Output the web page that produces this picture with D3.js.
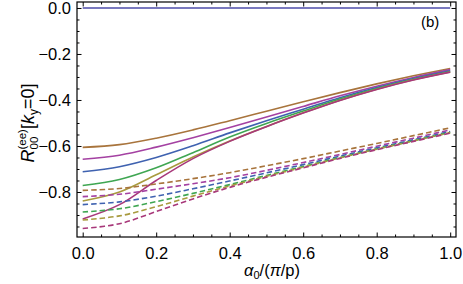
<!DOCTYPE html>
<html><head><meta charset="utf-8">
<script src="https://cdn.jsdelivr.net/npm/d3@7"></script>
<style>body{margin:0;background:#fff}svg{display:block}text{font-family:"Liberation Sans",Arial,sans-serif}</style>
</head><body><svg id="c" width="463" height="284"></svg>
<script>
const tValues = [0,0.1,0.2,0.3,0.4,0.5,0.6,0.7,0.8,0.9,1.0];
const zeroLine = [0,0,0,0,0,0,0,0,0,0,0];
const solidBrown   = [-0.606,-0.594,-0.566,-0.530,-0.490,-0.449,-0.408,-0.368,-0.330,-0.295,-0.263];
const solidPurple  = [-0.658,-0.640,-0.605,-0.564,-0.520,-0.474,-0.428,-0.382,-0.340,-0.302,-0.268];
const solidBlue    = [-0.712,-0.690,-0.650,-0.599,-0.543,-0.490,-0.440,-0.390,-0.346,-0.307,-0.273];
const solidGreen   = [-0.772,-0.746,-0.695,-0.629,-0.561,-0.502,-0.448,-0.396,-0.350,-0.310,-0.276];
const solidOlive   = [-0.839,-0.800,-0.725,-0.648,-0.578,-0.515,-0.456,-0.401,-0.353,-0.312,-0.278];
const solidMagenta = [-0.917,-0.855,-0.750,-0.655,-0.580,-0.516,-0.457,-0.402,-0.354,-0.313,-0.279];
const dashBrown   = [-0.793,-0.785,-0.765,-0.742,-0.716,-0.686,-0.655,-0.622,-0.589,-0.555,-0.521];
const dashPurple  = [-0.820,-0.810,-0.788,-0.764,-0.738,-0.706,-0.672,-0.637,-0.601,-0.566,-0.530];
const dashBlue    = [-0.855,-0.843,-0.818,-0.786,-0.752,-0.717,-0.681,-0.644,-0.608,-0.573,-0.537];
const dashGreen   = [-0.887,-0.873,-0.842,-0.806,-0.768,-0.728,-0.689,-0.650,-0.613,-0.577,-0.541];
const dashOlive   = [-0.922,-0.904,-0.864,-0.818,-0.774,-0.732,-0.692,-0.652,-0.614,-0.578,-0.542];
const dashMagenta = [-0.959,-0.938,-0.885,-0.830,-0.780,-0.736,-0.695,-0.654,-0.616,-0.580,-0.544];
const xTicks = [0,0.2,0.4,0.6,0.8,1.0];
const yTicks = [-0.8,-0.6,-0.4,-0.2,0.0];

const colors = {zero:"#4d4ba8",brown:"#a8743c",purple:"#a441a2",blue:"#3f62b0",green:"#3fa652",olive:"#a89a3e",magenta:"#a8387a"};
const series = [
  {v:zeroLine,c:colors.zero,d:false},
  {v:solidBrown,c:colors.brown,d:false},{v:solidPurple,c:colors.purple,d:false},{v:solidBlue,c:colors.blue,d:false},
  {v:solidGreen,c:colors.green,d:false},{v:solidOlive,c:colors.olive,d:false},{v:solidMagenta,c:colors.magenta,d:false},
  {v:dashBrown,c:colors.brown,d:true},{v:dashPurple,c:colors.purple,d:true},{v:dashBlue,c:colors.blue,d:true},
  {v:dashGreen,c:colors.green,d:true},{v:dashOlive,c:colors.olive,d:true},{v:dashMagenta,c:colors.magenta,d:true}
];

const L=77,R=456,T=2,B=237;
const x = d3.scaleLinear().domain([-0.0155,1.0158]).range([L,R]);
const y = d3.scaleLinear().domain([-0.9957,0.026]).range([B,T]);
const svg = d3.select("#c");
const fmt = d3.format(".1f");
const xMinor = d3.range(0,1.0001,0.05).filter(v=>Math.abs(v*5-Math.round(v*5))>1e-6);
const yMinor = d3.range(-0.95,0.0001,0.05).filter(v=>Math.abs(v*5-Math.round(v*5))>1e-6);

const g = svg.append("g");
function axisStyle(sel){sel.select(".domain").remove();sel.selectAll("line").attr("stroke","#000").attr("stroke-width",1);sel.selectAll("text").attr("font-size",16.5).attr("fill","#000");}
g.append("g").attr("transform",`translate(0,${B})`).call(d3.axisBottom(x).tickValues(xTicks).tickFormat(fmt).tickSizeInner(-4.5).tickPadding(10)).call(axisStyle);
g.append("g").attr("transform",`translate(0,${B})`).call(d3.axisBottom(x).tickValues(xMinor).tickFormat("").tickSizeInner(-2.5)).call(axisStyle);
g.append("g").attr("transform",`translate(0,${T})`).call(d3.axisTop(x).tickValues(xTicks).tickFormat("").tickSizeInner(-4.5)).call(axisStyle);
g.append("g").attr("transform",`translate(0,${T})`).call(d3.axisTop(x).tickValues(xMinor).tickFormat("").tickSizeInner(-2.5)).call(axisStyle);
g.append("g").attr("transform",`translate(${L},0)`).call(d3.axisLeft(y).tickValues(yTicks).tickFormat(fmt).tickSizeInner(-4.5).tickPadding(6)).call(axisStyle);
g.append("g").attr("transform",`translate(${L},0)`).call(d3.axisLeft(y).tickValues(yMinor).tickFormat("").tickSizeInner(-2.5)).call(axisStyle);
g.append("g").attr("transform",`translate(${R},0)`).call(d3.axisRight(y).tickValues(yTicks).tickFormat("").tickSizeInner(-4.5)).call(axisStyle);
g.append("g").attr("transform",`translate(${R},0)`).call(d3.axisRight(y).tickValues(yMinor).tickFormat("").tickSizeInner(-2.5)).call(axisStyle);

const line = d3.line().x((d,i)=>x(tValues[i])).y(d=>y(d)).curve(d3.curveCatmullRom.alpha(0.5));
svg.append("g").selectAll("path").data(series).join("path")
  .attr("d",s=>line(s.v)).attr("fill","none").attr("stroke",s=>s.c).attr("stroke-width",1.6)
  .attr("stroke-dasharray",s=>s.d?"5.5,3":null);

svg.append("rect").attr("x",L).attr("y",T).attr("width",R-L).attr("height",B-T).attr("fill","none").attr("stroke","#000").attr("stroke-width",1.2);

svg.append("text").attr("x",421).attr("y",27).attr("font-size",15).text("(b)");

// x title
const xt = svg.append("text").attr("x",272).attr("y",276).attr("text-anchor","middle").attr("font-size",16.5).attr("font-family","'DejaVu Serif','Liberation Serif',serif");
xt.append("tspan").attr("font-style","italic").text("α");
xt.append("tspan").attr("font-size",11).attr("dy",3).text("0");
xt.append("tspan").attr("dy",-3).attr("font-family","'Liberation Sans',Arial,sans-serif").text("/(");
xt.append("tspan").attr("font-style","italic").text("π");
xt.append("tspan").attr("font-family","'Liberation Sans',Arial,sans-serif").text("/p)");

// y title
const yt = svg.append("g").attr("transform","translate(34,123) rotate(-90)");
const parts = [
  {t:"R",fs:18,st:"italic",dy:0},
  {t:"(ee)",fs:11.5,dy:-8,sup:true},
  {t:"00",fs:11.5,dy:4,sub:true},
  {t:"[",fs:18,dy:0},
  {t:"k",fs:18,st:"italic",dy:0},
  {t:"y",fs:12,dy:4},
  {t:"=0]",fs:18,dy:0}
];
let cx=0; let supW=0; let baseStart=0;
const tmp=[];
parts.forEach(p=>{
  const el=yt.append("text").attr("font-size",p.fs).attr("font-style",p.st||null).attr("y",p.dy).text(p.t);
  tmp.push({el,p});
});
tmp.forEach(({el,p})=>{
  const w=el.node().getComputedTextLength();
  if(p.sup){el.attr("x",cx);supW=w;baseStart=cx;return;}
  if(p.sub){el.attr("x",baseStart);cx=baseStart+Math.max(w,supW);return;}
  el.attr("x",cx);cx+=w;
});
tmp.forEach(({el})=>el.attr("x",+el.attr("x")-cx/2));
</script></body></html>
